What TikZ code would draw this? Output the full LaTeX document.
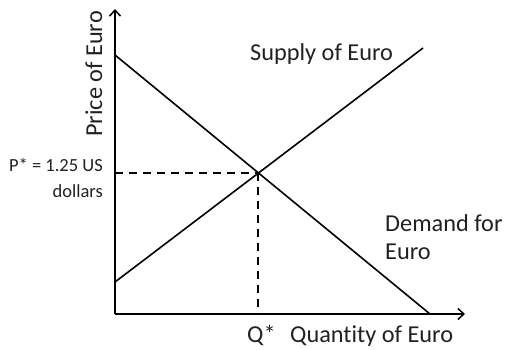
\documentclass[tikz,border=0pt]{standalone}
\usepackage{fontspec}
\setmainfont{Carlito}[Ligatures=CommonOff]
\usetikzlibrary{arrows.meta}
\definecolor{txt}{rgb}{0.13,0.13,0.13}
\tikzset{
  axis/.style={line width=1.7pt, -{Straight Barb[length=6pt,width=11pt,line width=1.5pt]}},
  curve/.style={line width=1.6pt},
  guide/.style={line width=1.6pt, dash pattern=on 8pt off 6pt},
  lbl/.style={inner sep=0pt, text=txt, font=\fontsize{24.3}{28}\selectfont},
  small/.style={inner sep=0pt, text=txt, font=\fontsize{18.5}{22}\selectfont}
}
\begin{document}
\begin{tikzpicture}[x=1pt,y=-1pt]
\useasboundingbox (0,0) rectangle (505,349);
\coordinate (O) at (115,314);
\coordinate (ytop) at (115,9);
\coordinate (xend) at (465,314);
\coordinate (d1) at (115,55);
\coordinate (d2) at (430,314);
\coordinate (s1) at (115,282);
\coordinate (s2) at (423,48);
\coordinate (E) at (258.2,172.7);
\draw[guide] (O |- E) -- (E);
\draw[guide] (E) -- (E |- O);
\draw[curve] (d1) -- (d2);
\draw[curve] (s1) -- (s2);
\draw[axis] (O) -- (ytop);
\draw[axis] (O) -- (xend);
\node[lbl, anchor=base west, rotate=90] (py) at (102,137) {Price of Euro};
\node[lbl, anchor=base west] (sup) at (250,60) {Supply of Euro};
\node[lbl, anchor=base west] (dem1) at (385,231) {Demand for};
\node[lbl, anchor=base west] (dem2) at (385,259) {Euro};
\node[lbl, anchor=base west] (qs) at (247,342) {Q*};
\node[lbl, anchor=base west] (qx) at (290,342) {Quantity of Euro};
\node[small, anchor=base east] (ps1) at (103,171) {P* = 1.25 US};
\node[small, anchor=base east] (ps2) at (103,197) {dollars};
\end{tikzpicture}
\end{document}
